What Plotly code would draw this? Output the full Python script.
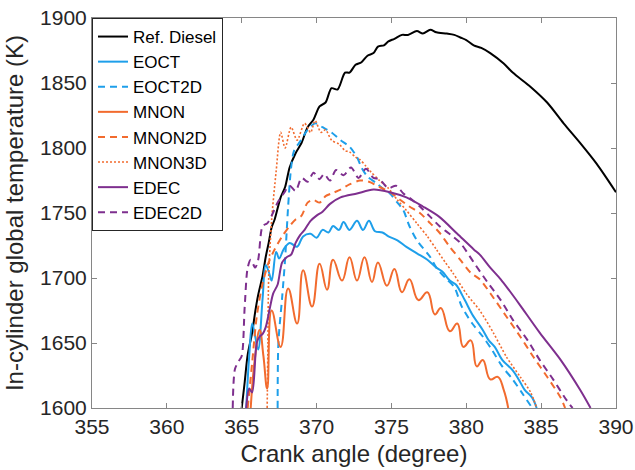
import plotly.graph_objects as go

# ---- data ----
ref_x = [365.0, 365.2, 365.4, 365.7, 365.9, 366.1, 366.4, 366.6, 366.8, 367.0, 367.2, 367.6, 367.9,
         368.2, 368.6, 369.0, 369.4, 369.8, 370.2, 370.6, 371.0, 371.4, 371.9, 372.2, 372.6, 373.0,
         373.4, 373.8, 374.1, 374.5, 374.8, 375.2, 375.7, 376.1, 376.7, 377.1, 377.6, 378.0, 378.7,
         379.2, 379.6, 380.0, 380.5, 381.0, 381.6, 382.5, 383.1, 384.3, 385.4, 386.5, 387.6, 388.7, 390.0]
ref_y = [1600, 1620, 1641, 1658, 1674, 1687, 1702, 1716, 1727, 1739, 1745, 1762, 1770,
         1785, 1796, 1804, 1816, 1822, 1832, 1835, 1846, 1845, 1858, 1858, 1864, 1866,
         1871, 1873, 1878, 1879, 1882, 1884, 1887, 1887, 1890, 1888, 1891, 1889, 1888,
         1887, 1885, 1883, 1879, 1877, 1873, 1865, 1858, 1847, 1835, 1819, 1804, 1788, 1766]

eoct_x = [365.3, 365.5, 365.7, 365.9, 366.1, 366.4, 366.6, 366.8, 367.0, 367.3, 367.5, 367.8, 368.2,
          368.7, 369.1, 369.6, 370.0, 370.4, 370.8, 371.1, 371.5, 371.8, 372.2, 372.7, 373.1, 373.5,
          373.9, 374.4, 374.8, 375.4, 376.0, 376.7, 377.4, 378.0, 378.4, 378.9, 379.3, 379.9, 380.4,
          381.1, 381.5, 381.9, 382.4, 383.1, 383.5, 383.9, 384.4, 384.7]
eoct_y = [1600, 1640, 1665, 1655, 1645, 1685, 1710, 1705, 1698, 1720, 1715, 1722, 1727,
          1724, 1732, 1734, 1731, 1737, 1735, 1740, 1737, 1743, 1737, 1744, 1737, 1744,
          1736, 1735, 1732, 1729, 1724, 1719, 1714, 1708, 1705, 1698, 1695, 1683, 1672,
          1660, 1652, 1647, 1637, 1629, 1622, 1614, 1608, 1600]

eoct2d_x = [367.4, 367.45, 367.7, 367.9, 368.1, 368.3, 368.5, 368.9, 369.4, 369.9, 370.4, 371.0,
            371.6, 372.2, 372.7, 373.0, 373.4, 374.0, 374.4, 374.9, 375.4, 375.8, 376.2, 376.7,
            377.6, 378.0, 378.6, 379.2, 379.7, 380.4, 381.1, 381.7, 382.4, 383.1, 383.7, 384.4]
eoct2d_y = [1600, 1650, 1685, 1715, 1755, 1785, 1798, 1805, 1814, 1819, 1816, 1812,
            1806, 1801, 1793, 1785, 1778, 1773, 1769, 1765, 1758, 1752, 1740, 1729,
            1716, 1708, 1700, 1693, 1678, 1665, 1655, 1645, 1632, 1622, 1612, 1600]

mnon_x = [365.6, 365.9, 366.2, 366.45, 366.7, 367.0, 367.6, 368.1, 368.7, 369.1, 369.7, 370.2, 370.7,
          371.1, 371.7, 372.2, 372.7, 373.2, 373.7, 374.1, 374.7, 375.2, 375.7, 376.2, 376.8, 377.4,
          377.9, 378.3, 378.9, 379.4, 379.8, 380.3, 380.7, 381.1, 381.6, 382.1, 382.5, 382.8]
mnon_y = [1600, 1640, 1660, 1640, 1615, 1675, 1647, 1692, 1665, 1706, 1678, 1711, 1691,
          1714, 1698, 1716, 1698, 1716, 1697, 1712, 1694, 1707, 1689, 1699, 1683, 1689,
          1672, 1677, 1659, 1665, 1647, 1652, 1632, 1637, 1622, 1624, 1614, 1600]

mnon2d_x = [365.4, 365.7, 366.0, 366.4, 366.8, 367.2, 367.7, 368.2, 368.6, 369.0, 369.4, 369.8, 370.2,
            370.6, 371.0, 371.6, 372.2, 372.9, 373.5, 374.2, 374.9, 375.6, 376.2, 376.9, 377.6, 378.2,
            378.9, 379.6, 380.3, 380.9, 381.8, 382.7, 383.6, 384.5, 385.4, 386.3, 386.6]
mnon2d_y = [1600, 1635, 1670, 1696, 1712, 1722, 1732, 1740, 1745, 1748, 1758, 1760, 1758,
            1763, 1765, 1768, 1772, 1775, 1774, 1770, 1766, 1760, 1755, 1750, 1742, 1735,
            1724, 1714, 1704, 1699, 1685, 1670, 1655, 1639, 1624, 1608, 1600]

mnon3d_x = [366.7, 366.75, 366.8, 367.0, 367.3, 367.6, 367.9, 368.3, 368.7, 369.2, 369.6, 369.9, 370.3,
            370.6, 371.0, 371.5, 371.9, 372.2, 372.6, 372.9, 373.3, 373.6, 374.2, 374.8, 375.4, 376.0,
            376.7, 377.4, 378.0, 378.6, 379.1, 380.0, 380.9, 381.8, 382.7, 383.6, 384.3, 384.7]
mnon3d_y = [1600, 1650, 1700, 1745, 1782, 1812, 1800, 1816, 1806, 1819, 1812, 1821, 1812,
            1814, 1806, 1803, 1798, 1797, 1793, 1791, 1786, 1782, 1775, 1769, 1760, 1752,
            1742, 1732, 1722, 1712, 1704, 1688, 1675, 1658, 1639, 1624, 1612, 1600]

edec_x = [365.3, 365.5, 365.7, 366.0, 366.2, 366.4, 366.6, 366.9, 367.1, 367.4, 367.7, 368.0, 368.3,
          368.6, 368.9, 369.2, 369.6, 370.0, 370.4, 370.9, 371.6, 372.7, 373.8, 374.9, 376.0, 377.1,
          378.2, 379.4, 380.5, 380.9, 381.6, 382.3, 382.9, 383.6, 384.9, 386.3, 387.6, 388.3]
edec_y = [1600, 1615, 1612, 1650, 1655, 1657, 1662, 1678, 1688, 1695, 1712, 1716, 1718,
          1727, 1733, 1737, 1744, 1748, 1751, 1757, 1762, 1765, 1768, 1766, 1762, 1755,
          1747, 1734, 1722, 1718, 1708, 1699, 1690, 1679, 1658, 1637, 1614, 1600]

edec2d_x = [364.4, 364.55, 364.8, 365.0, 365.2, 365.4, 365.6, 365.9, 366.1, 366.4, 366.7, 367.0, 367.4,
            367.8, 368.2, 368.6, 369.0, 369.4, 369.8, 370.2, 370.5, 370.9, 371.3, 371.8, 372.3, 372.8,
            373.3, 373.8, 374.2, 374.8, 375.3, 375.8, 376.4, 376.9, 377.6, 378.2, 379.1, 379.6, 380.5,
            381.4, 382.3, 383.1, 384.1, 384.9, 385.8, 386.7, 387.1]
edec2d_y = [1600, 1630, 1636, 1640, 1678, 1708, 1714, 1708, 1714, 1740, 1742, 1748, 1758,
            1765, 1771, 1767, 1777, 1774, 1781, 1776, 1780, 1775, 1783, 1779, 1785, 1777,
            1784, 1777, 1776, 1769, 1771, 1765, 1760, 1755, 1747, 1740, 1732, 1727, 1712,
            1697, 1683, 1668, 1652, 1637, 1622, 1606, 1600]

x_ticks = [355, 360, 365, 370, 375, 380, 385, 390]
y_ticks = [1600, 1650, 1700, 1750, 1800, 1850, 1900]

BLACK = "#000000"
BLUE = "#1E9FEA"
ORANGE = "#F26B2E"
PURPLE = "#7E2F8E"
DASH = "7px,5px"
DOT = "2px,2px"

series = [
    ("Ref. Diesel", ref_x, ref_y, BLACK, "solid", 2, 0.8),
    ("EOCT", eoct_x, eoct_y, BLUE, "solid", 2, 1.0),
    ("EOCT2D", eoct2d_x, eoct2d_y, BLUE, DASH, 2, 0.8),
    ("MNON", mnon_x, mnon_y, ORANGE, "solid", 2, 1.3),
    ("MNON2D", mnon2d_x, mnon2d_y, ORANGE, DASH, 2, 0.8),
    ("MNON3D", mnon3d_x, mnon3d_y, ORANGE, DOT, 1.6, 0.8),
    ("EDEC", edec_x, edec_y, PURPLE, "solid", 2, 0.8),
    ("EDEC2D", edec2d_x, edec2d_y, PURPLE, DASH, 2, 0.8),
]

fig = go.Figure()
for name, xs, ys, col, dash, w, sm in series:
    fig.add_trace(go.Scatter(
        x=xs, y=ys, mode="lines", name=name,
        line=dict(color=col, dash=dash, width=w, shape="spline", smoothing=sm),
    ))

FONT = "Liberation Sans, Arial, sans-serif"
axis_common = dict(
    showline=True, linecolor="#868686", linewidth=1, mirror="ticks",
    ticks="inside", ticklen=5, tickcolor="#868686", tickwidth=1,
    showgrid=False, zeroline=False, automargin=False,
    tickfont=dict(family=FONT, size=21, color="#262626"),
)

fig.update_layout(
    width=635, height=470,
    margin=dict(l=92, r=19, t=18, b=62, autoexpand=False),
    paper_bgcolor="white", plot_bgcolor="white",
    font=dict(family=FONT, color="#262626"),
    showlegend=True,
    legend=dict(
        x=0, y=1, xanchor="left", yanchor="top",
        bgcolor="white", bordercolor="#262626", borderwidth=1,
        font=dict(family=FONT, size=17, color="#000000"),
        itemwidth=30, tracegroupgap=0,
    ),
    xaxis=dict(range=[355, 390], tickvals=x_ticks, **axis_common,
               title=dict(text="Crank angle (degree)", font=dict(family=FONT, size=24, color="#262626"), standoff=7)),
    yaxis=dict(range=[1600, 1900], tickvals=y_ticks, **axis_common,
               title=dict(text="In-cylinder global temperature (K)", font=dict(family=FONT, size=24, color="#262626"), standoff=9)),
)

fig.write_html("out.html", config={"displayModeBar": False},
               post_script="document.body.style.margin='0px';")
